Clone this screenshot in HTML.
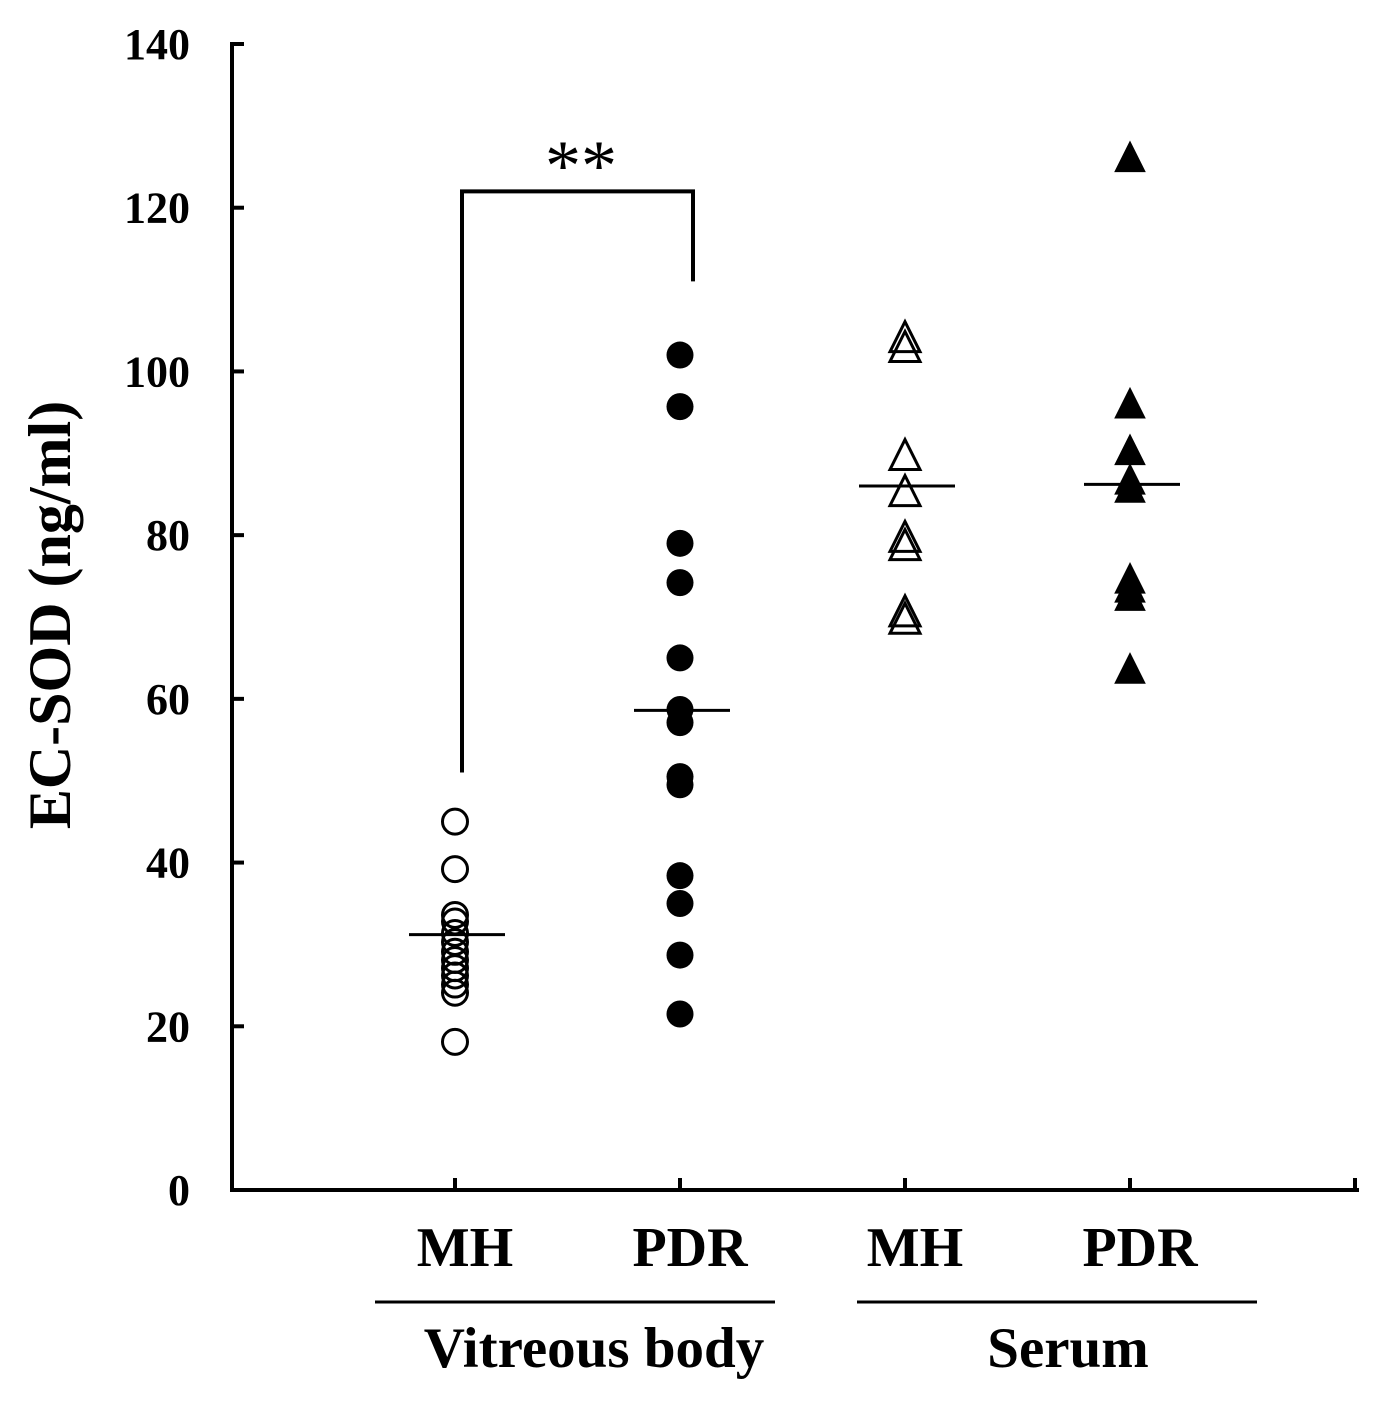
<!DOCTYPE html>
<html><head><meta charset="utf-8"><style>
body{margin:0;background:#fff}
svg text{font-family:"Liberation Serif",serif;font-weight:bold;fill:#000}
</style></head><body>
<svg id="chart" width="1376" height="1404" viewBox="0 0 1376 1404" xmlns="http://www.w3.org/2000/svg">
<g id="axes"></g>
<g id="marks"></g>
<g id="labels"></g>
</svg>
<script>
const categories = ["MH", "PDR", "MH", "PDR"];
const groups = ["Vitreous body", "Serum"];
const yTicks = [0, 20, 40, 60, 80, 100, 120, 140];
const vitMH = [45.0, 39.2, 33.6, 32.8, 31.4, 30.3, 29.1, 28.1, 27.1, 26.2, 25.1, 24.1, 18.1];
const vitPDR = [102, 95.7, 79, 74.2, 65, 58.7, 57.1, 50.5, 49.5, 38.4, 35, 28.7, 21.5];
const serMH = [104, 102.8, 89.6, 85.2, 79.6, 78.6, 70.5, 69.6];
const serPDR = [126, 95.9, 90.2, 86.6, 85.6, 74.5, 73.4, 72.4, 63.5];
const medians = [31.2, 58.6, 86, 86.2];
const bracketLeft = 51, bracketTop = 122, bracketRight = 111;

const NS = "http://www.w3.org/2000/svg";
const X0 = 232, XSTEP = 225, Y0 = 1190, YTOP = 44, YMAX = 140;
const y = v => Y0 - v * (Y0 - YTOP) / YMAX;
const x = i => X0 + XSTEP * (i + 1) - 2;
function mk(tag, attrs, parent) {
  const e = document.createElementNS(NS, tag);
  for (const k in attrs) e.setAttribute(k, attrs[k]);
  parent.appendChild(e); return e;
}
const axes = document.getElementById('axes'), marks = document.getElementById('marks'), labels = document.getElementById('labels');
let el = mk('line', {x1: X0, y1: YTOP - 2, x2: X0, y2: Y0 + 2, stroke: '#000', 'stroke-width': 4}, axes);


el = mk('line', {x1: X0 - 2, y1: Y0, x2: X0 + XSTEP * 5 + 2, y2: Y0, stroke: '#000', 'stroke-width': 4}, axes);


yTicks.forEach(t => {
  const tk = mk('line', {x1: X0, y1: y(t), x2: X0 + 12, y2: y(t), stroke: '#000', 'stroke-width': 4}, axes);
  
  
  const tl = mk('text', {x: 190, y: y(t) + 15, 'text-anchor': 'end', 'font-size': 44}, axes);
  tl.textContent = t;
  
  
});
for (let i = 0; i < 5; i++) {
  const xx = X0 + XSTEP * (i + 1) - 2;
  const tk = mk('line', {x1: xx, y1: Y0, x2: xx, y2: Y0 - 12, stroke: '#000', 'stroke-width': 4}, axes);
  
  
}
categories.forEach((c, i) => {
  const t = mk('text', {x: x(i) + 10, y: 1266, 'text-anchor': 'middle', 'font-size': 56}, labels);
  t.textContent = c;
  
  
});
[[375, 775, 594], [857, 1257, 1068]].forEach((g, i) => {
  const l = mk('line', {x1: g[0], y1: 1302, x2: g[1], y2: 1302, stroke: '#000', 'stroke-width': 3}, labels);
  
  
  const t = mk('text', {x: g[2], y: 1367, 'text-anchor': 'middle', 'font-size': 57}, labels);
  t.textContent = groups[i];
  
  
});
el = mk('text', {x: 0, y: 0, 'text-anchor': 'middle', 'font-size': 60, transform: 'translate(70,615) rotate(-90)'}, labels);
el.textContent = 'EC-SOD (ng/ml)';



function circles(arr, i, filled) {
  arr.forEach(v => {
    const c = mk('circle', {cx: x(i), cy: y(v), r: filled ? 13.5 : 12.5, fill: filled ? '#000' : 'none', stroke: '#000', 'stroke-width': filled ? 0 : 3}, marks);
    
    
  });
}
function tris(arr, i, filled) {
  arr.forEach(v => {
    const cx = x(i), cy = y(v);
    const p = mk('polygon', {points: `${cx},${cy - 17} ${cx - 15},${cy + 13} ${cx + 15},${cy + 13}`, fill: filled ? '#000' : 'none', stroke: '#000', 'stroke-width': filled ? 1 : 3}, marks);
    
    
  });
}
circles(vitMH, 0, false);
circles(vitPDR, 1, true);
tris(serMH, 2, false);
tris(serPDR, 3, true);
medians.forEach((m, i) => {
  const l = mk('line', {x1: x(i) - 46, y1: y(m), x2: x(i) + 50, y2: y(m), stroke: '#000', 'stroke-width': 3}, marks);
  
  
});
el = mk('polyline', {points: `462,${y(bracketLeft)} 462,${y(bracketTop)} 693,${y(bracketTop)} 693,${y(bracketRight)}`, fill: 'none', stroke: '#000', 'stroke-width': 4}, marks);


el = mk('text', {x: 581, y: 190, 'text-anchor': 'middle', 'font-size': 72, style: 'font-weight:normal'}, marks);
el.textContent = '**';


</script>
</body></html>
